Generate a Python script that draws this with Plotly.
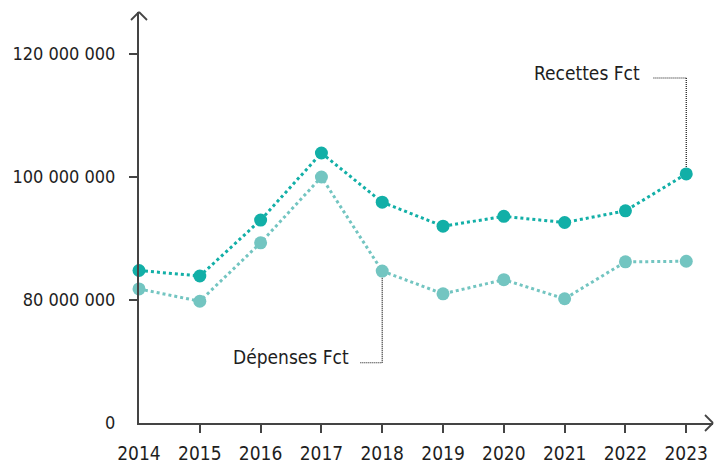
import plotly.graph_objects as go

years = [2014, 2015, 2016, 2017, 2018, 2019, 2020, 2021, 2022, 2023]
recettes = [84.8e6, 83.9e6, 93.0e6, 103.9e6, 95.9e6, 92.0e6, 93.6e6, 92.6e6, 94.5e6, 100.5e6]
depenses = [81.8e6, 79.8e6, 89.3e6, 100.0e6, 84.7e6, 81.0e6, 83.3e6, 80.2e6, 86.2e6, 86.3e6]

ytick_vals = [60e6, 80e6, 100e6, 120e6]
ytick_text = ["0", "80 000 000", "100 000 000", "120 000 000"]

FONT = "DejaVu Sans Condensed"
FS = 19
TXT = "#1e1e1e"
AX = "#444444"
C_REC = "#12afa7"
C_DEP = "#73c5c1"

fig = go.Figure()
fig.add_trace(go.Scatter(x=years, y=depenses, mode="lines+markers", name="Dépenses Fct",
                         line=dict(color=C_DEP, width=3, dash="dot"),
                         marker=dict(color=C_DEP, size=13), cliponaxis=False))
fig.add_trace(go.Scatter(x=years, y=recettes, mode="lines+markers", name="Recettes Fct",
                         line=dict(color=C_REC, width=3, dash="dot"),
                         marker=dict(color=C_REC, size=13), cliponaxis=False))

# leader lines
lead = dict(color="#111111", width=1.2, dash="1px,1px")
fig.add_shape(type="line", x0=2022.46, x1=2023, y0=116.1e6, y1=116.1e6, line=lead, layer="below")
fig.add_shape(type="line", x0=2023, x1=2023, y0=116.1e6, y1=recettes[-1], line=lead, layer="below")
fig.add_shape(type="line", x0=2017.64, x1=2018, y0=69.8e6, y1=69.8e6, line=lead, layer="below")
fig.add_shape(type="line", x0=2018, x1=2018, y0=69.8e6, y1=depenses[4], line=lead, layer="below")

fig.add_annotation(x=2022.27, y=116.9e6, text="Recettes Fct", showarrow=False,
                   xanchor="right", yanchor="middle", font=dict(family=FONT, size=FS, color=TXT))
fig.add_annotation(x=2017.48, y=70.7e6, text="Dépenses Fct", showarrow=False,
                   xanchor="right", yanchor="middle", font=dict(family=FONT, size=FS, color=TXT))

# axis arrowheads (chevrons)
chev = dict(color=AX, width=1.8)
common = dict(type="line", xref="paper", yref="paper", xsizemode="pixel", ysizemode="pixel", line=chev)
fig.add_shape(xanchor=0, yanchor=1, x0=-8, y0=-8, x1=0, y1=0, **common)
fig.add_shape(xanchor=0, yanchor=1, x0=8, y0=-8, x1=0, y1=0, **common)
fig.add_shape(xanchor=1, yanchor=0, x0=-8, y0=8, x1=0, y1=0, **common)
fig.add_shape(xanchor=1, yanchor=0, x0=-8, y0=-8, x1=0, y1=0, **common)

fig.update_layout(
    width=715, height=466,
    margin=dict(l=139, r=2, t=12, b=43, autoexpand=False),
    paper_bgcolor="white", plot_bgcolor="white",
    showlegend=False,
    font=dict(family=FONT, size=FS, color=TXT),
    xaxis=dict(range=[2014, 2023.44], tickvals=years, ticktext=[str(y) for y in years],
               showgrid=False, zeroline=False, showline=True, linecolor=AX, linewidth=2,
               ticks="", ticklabelstandoff=12, automargin=False,
               minor=dict(tickmode="array", tickvals=years[1:], ticks="outside", ticklen=8,
                          tickwidth=2, tickcolor=AX, showgrid=False)),
    yaxis=dict(range=[60e6, 126.83e6], tickvals=ytick_vals, ticktext=ytick_text,
               showgrid=False, zeroline=False, showline=True, linecolor=AX, linewidth=2,
               ticks="", ticklabelstandoff=18, automargin=False, tickfont=dict(size=18),
               minor=dict(tickmode="array", tickvals=ytick_vals[1:], ticks="outside", ticklen=8,
                          tickwidth=2, tickcolor=AX, showgrid=False)),
)

fig.write_html("out.html", config={"displayModeBar": False},
               post_script="document.body.style.margin='0px';document.body.style.overflow='hidden';")
